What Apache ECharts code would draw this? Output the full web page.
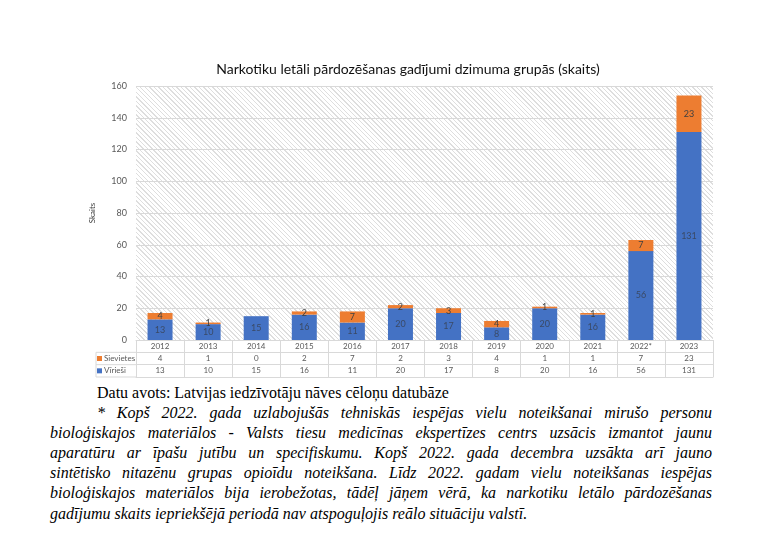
<!DOCTYPE html>
<html>
<head>
<meta charset="utf-8">
<script src="https://cdn.jsdelivr.net/npm/echarts@6/dist/echarts.min.js"></script>
<style>
  html,body{margin:0;padding:0;background:#fff;}
  #wrap{position:relative;width:768px;height:545px;overflow:hidden;background:#fff;}
  #hatch{position:absolute;left:136px;top:86px;width:577px;height:254px;
    background:repeating-linear-gradient(45deg,#ffffff 0px,#ffffff 2.2px,#dedede 2.2px,#dedede 3.2px);}
  #chart{position:absolute;left:0;top:0;width:768px;height:380px;}
  .ft{position:absolute;font-family:"Liberation Serif","Times New Roman",serif;font-size:16px;line-height:20px;color:#000;white-space:nowrap;}
  .it{font-style:italic;}
  .j{text-align:justify;text-align-last:justify;white-space:normal;}
</style>
</head>
<body>
<div id="wrap">
  <div id="hatch"></div>
  <div id="chart"></div>
  <div class="ft" style="left:97px;top:383px;">Datu avots: Latvijas iedzīvotāju nāves cēloņu datubāze</div>
  <div class="ft it j" style="left:97px;top:403px;width:615px;">* Kopš 2022. gada uzlabojušās tehniskās iespējas vielu noteikšanai mirušo personu</div>
  <div class="ft it j" style="left:50px;top:423px;width:662px;">bioloģiskajos materiālos - Valsts tiesu medicīnas ekspertīzes centrs uzsācis izmantot jaunu</div>
  <div class="ft it j" style="left:50px;top:443px;width:662px;">aparatūru ar īpašu jutību un specifiskumu. Kopš 2022. gada decembra uzsākta arī jauno</div>
  <div class="ft it j" style="left:50px;top:463px;width:662px;">sintētisko nitazēnu grupas opioīdu noteikšana. Līdz 2022. gadam vielu noteikšanas iespējas</div>
  <div class="ft it j" style="left:50px;top:483px;width:662px;">bioloģiskajos materiālos bija ierobežotas, tādēļ jāņem vērā, ka narkotiku letālo pārdozēšanas</div>
  <div class="ft it" style="left:50px;top:504px;">gadījumu skaits iepriekšējā periodā nav atspoguļojis reālo situāciju valstī.</div>
</div>
<script>
var categories = ['2012','2013','2014','2015','2016','2017','2018','2019','2020','2021','2022*','2023'];
var sievietes = [4, 1, 0, 2, 7, 2, 3, 4, 1, 1, 7, 23];
var virieshi = [13, 10, 15, 16, 11, 20, 17, 8, 20, 16, 56, 131];
var seriesNames = ['Vīrieši', 'Sievietes'];
var yTicks = {min: 0, max: 160, interval: 20};

var ORANGE = '#ED7D31', BLUE = '#4472C4';
var GL = 136, GW = 577, GT = 86, GH = 254;
var TT = GT + GH, TH = 37;

var tableRows = ['Vīrieši', 'Sievietes', ''];
var tableData = [];
for (var i = 0; i < categories.length; i++) {
  tableData.push([i, 2, 0]);
  tableData.push([i, 1, 1]);
  tableData.push([i, 0, 2]);
}
function cellText(row, i) {
  if (row === 0) return categories[i];
  if (row === 1) return String(sievietes[i]);
  return String(virieshi[i]);
}

var chart = echarts.init(document.getElementById('chart'), null, {renderer: 'canvas'});
var option = {
  animation: false,
  backgroundColor: 'transparent',
  title: {
    text: 'Narkotiku letāli pārdozēšanas gadījumi dzimuma grupās (skaits)',
    left: 403, top: 57, textAlign: 'center',
    textStyle: {fontFamily: 'Lato', fontSize: 14, fontWeight: 'normal', color: '#111'}
  },
  grid: [
    {left: GL, width: GW, top: GT, height: GH, show: false},
    {left: GL, width: GW, top: TT, height: TH, show: false}
  ],
  graphic: [
    {type: 'line', shape: {x1: 96, y1: TT + TH/3, x2: GL, y2: TT + TH/3}, style: {stroke: '#d9d9d9', lineWidth: 1}},
    {type: 'line', shape: {x1: 96, y1: TT + 2*TH/3, x2: GL, y2: TT + 2*TH/3}, style: {stroke: '#d9d9d9', lineWidth: 1}},
    {type: 'line', shape: {x1: 96, y1: TT + TH, x2: GL, y2: TT + TH}, style: {stroke: '#d9d9d9', lineWidth: 1}},
    {type: 'line', shape: {x1: 96, y1: TT + TH/3, x2: 96, y2: TT + TH}, style: {stroke: '#d9d9d9', lineWidth: 1}}
  ],
  xAxis: [
    {type: 'category', gridIndex: 0, data: categories,
     axisLine: {show: true, lineStyle: {color: '#d9d9d9'}},
     axisTick: {show: false}, axisLabel: {show: false}},
    {type: 'category', gridIndex: 1, data: categories,
     axisLine: {show: true, lineStyle: {color: '#d9d9d9'}},
     axisTick: {show: false}, axisLabel: {show: false},
     splitLine: {show: true, interval: 0, lineStyle: {color: '#d9d9d9', width: 1}}}
  ],
  yAxis: [
    {type: 'value', gridIndex: 0, min: yTicks.min, max: yTicks.max, interval: yTicks.interval,
     name: 'Skaits', nameLocation: 'middle', nameRotate: 90, nameGap: 40,
     nameTextStyle: {fontFamily: 'Lato', fontSize: 8, color: '#404040'},
     axisLine: {show: false}, axisTick: {show: false},
     axisLabel: {fontFamily: 'Lato', fontSize: 9, color: '#595959', margin: 9},
     splitLine: {lineStyle: {color: '#d9d9d9', width: 1}}},
    {type: 'category', gridIndex: 1, data: tableRows,
     axisLine: {show: false}, axisTick: {show: false},
     axisLabel: {
       interval: 0, hideOverlap: false,
       margin: 39, align: 'left',
       formatter: function (v) {
         if (v === 'Sievietes') return '{o|}{t|Sievietes}';
         if (v === 'Vīrieši') return '{b|}{t|Vīrieši}';
         return '';
       },
       rich: {
         o: {width: 5, height: 5, backgroundColor: ORANGE},
         b: {width: 5, height: 5, backgroundColor: BLUE},
         t: {fontFamily: 'Lato', fontSize: 8, color: '#595959', padding: [0,0,0,2]}
       }
     },
     splitLine: {show: true, interval: 0, lineStyle: {color: '#d9d9d9', width: 1}}}
  ],
  series: [
    {name: seriesNames[0], type: 'bar', stack: 'total', xAxisIndex: 0, yAxisIndex: 0,
     data: virieshi, barWidth: '52%', itemStyle: {color: BLUE},
     label: {show: true, position: 'inside', fontFamily: 'Lato', fontSize: 9, color: '#3a4a66',
       formatter: function (p) { return p.value ? p.value : ''; }}},
    {name: seriesNames[1], type: 'bar', stack: 'total', xAxisIndex: 0, yAxisIndex: 0,
     data: sievietes, barWidth: '52%', itemStyle: {color: ORANGE},
     label: {show: true, position: 'inside', fontFamily: 'Lato', fontSize: 9, color: '#404040',
       formatter: function (p) { return p.value ? p.value : ''; }}},
    {type: 'custom', xAxisIndex: 1, yAxisIndex: 1, data: tableData, silent: true,
     renderItem: function (params, api) {
       var pt = api.coord([api.value(0), api.value(1)]);
       return {type: 'text', style: {
         x: pt[0], y: pt[1], text: cellText(api.value(2), api.value(0)),
         textAlign: 'center', textVerticalAlign: 'middle',
         font: '8px Lato', fill: '#595959'}};
     }}
  ]
};
chart.setOption(option);
</script>
</body>
</html>
